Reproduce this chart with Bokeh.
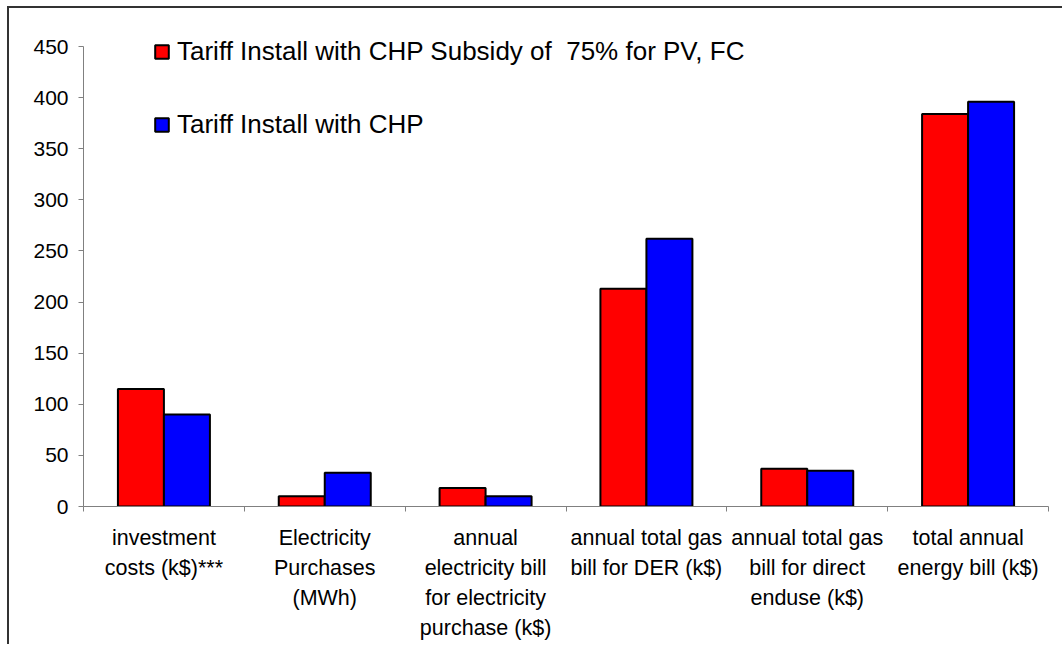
from bokeh.plotting import figure
from bokeh.models import Range1d, FixedTicker, ColumnDataSource, Legend, LegendItem
from bokeh.transform import dodge
from bokeh.embed import file_html
from bokeh.resources import INLINE

categories = [
    "investment\ncosts (k$)***",
    "Electricity\nPurchases\n(MWh)",
    "annual\nelectricity bill\nfor electricity\npurchase (k$)",
    "annual total gas\nbill for DER (k$)",
    "annual total gas\nbill for direct\nenduse (k$)",
    "total annual\nenergy bill (k$)",
]
subsidy = [115, 10, 18, 213, 37, 384]
no_subsidy = [90, 33, 10, 262, 35, 396]
series_names = [
    "Tariff Install with CHP Subsidy of  75% for PV, FC",
    "Tariff Install with CHP",
]
y_ticks = [0, 50, 100, 150, 200, 250, 300, 350, 400, 450]

FONT = "Liberation Sans"
n = len(categories)
centers = [i + 0.5 for i in range(n)]
src = ColumnDataSource(dict(x=centers, red=subsidy, blue=no_subsidy))

# frame: 460 px for 0..450, plus headroom above so the legend is not clipped
axis_px = 460
head_px = 17
y_top = y_ticks[-1]
y_end = y_top * (axis_px + head_px) / axis_px

p = figure(
    frame_width=965, frame_height=axis_px + head_px,
    x_range=Range1d(0, n), y_range=Range1d(0, y_end),
    output_backend="svg", toolbar_location=None,
    min_border_left=74, min_border_right=14, min_border_top=21, min_border_bottom=138,
)
p.styles = {
    "margin-left": "7px", "margin-top": "6px",
    "border-top": "2px solid #333333", "border-left": "2px solid #333333",
}
p.outline_line_color = None
p.xgrid.visible = False
p.ygrid.visible = False

bw = 0.286
r1 = p.vbar(x=dodge("x", -bw / 2, range=p.x_range), top="red", width=bw, source=src,
            fill_color="#FF0000", line_color="black", line_width=2)
r2 = p.vbar(x=dodge("x", bw / 2, range=p.x_range), top="blue", width=bw, source=src,
            fill_color="#0000FF", line_color="black", line_width=2)

# y axis
ya = p.yaxis[0]
ya.ticker = FixedTicker(ticks=y_ticks)
ya.bounds = (0, y_top)
ya.axis_line_color = "#808080"
ya.major_tick_line_color = "#808080"
ya.major_tick_in = 0
ya.major_tick_out = 5
ya.minor_tick_out = 0
ya.minor_tick_in = 0
ya.major_label_text_font = FONT
ya.major_label_text_font_size = "21px"
ya.major_label_text_color = "black"
ya.major_label_standoff = 10

# x axis
xa = p.xaxis[0]
xa.ticker = FixedTicker(ticks=centers, minor_ticks=list(range(n + 1)))
xa.axis_line_color = "#808080"
xa.major_tick_in = 0
xa.major_tick_out = 0
xa.minor_tick_in = 0
xa.minor_tick_out = 5
xa.minor_tick_line_color = "#808080"
xa.major_label_overrides = {c: lab for c, lab in zip(centers, categories)}
xa.major_label_text_font = FONT
xa.major_label_text_font_size = "21.5px"
xa.major_label_text_color = "black"
xa.major_label_text_line_height = 1.25
xa.major_label_standoff = 14

legend = Legend(
    items=[LegendItem(label=series_names[0], renderers=[r1]),
           LegendItem(label=series_names[1], renderers=[r2])],
    location=(70, 366), orientation="vertical",
    glyph_width=17, glyph_height=17, label_height=30, spacing=42,
    padding=0, margin=0, border_line_color=None, background_fill_alpha=0,
    label_text_font=FONT, label_text_font_size="26px", label_text_color="black",
    label_standoff=7,
)
p.add_layout(legend)

open("out.html", "w").write(file_html(p, INLINE))
